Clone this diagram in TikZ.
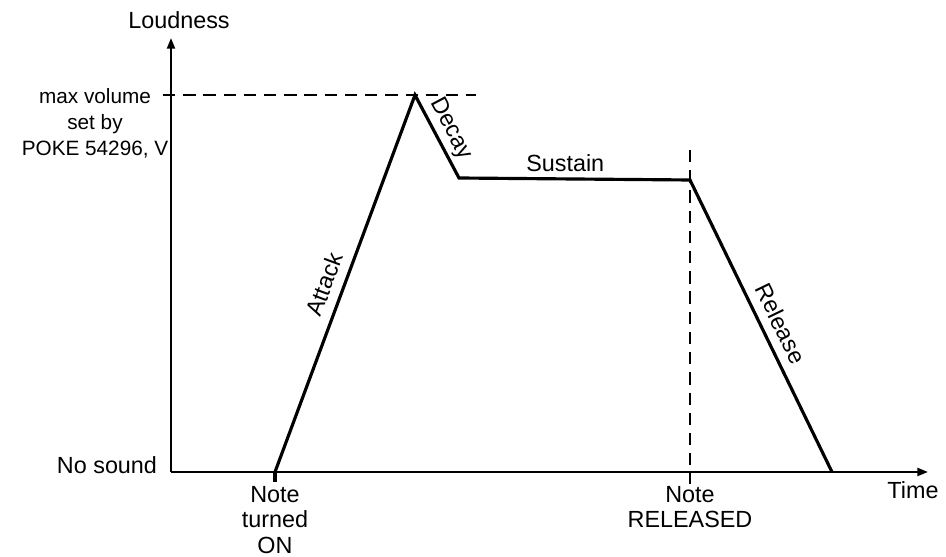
\documentclass[tikz,border=0pt]{standalone}
\usepackage{fontspec}
\setmainfont{Liberation Sans}
\usetikzlibrary{positioning, arrows.meta}

\begin{document}
\begin{tikzpicture}[
  x=0.2mm, y=-0.2mm,
  axis/.style={line width=1.2pt, -{Triangle[length=6pt, width=4.5pt]}},
  env/.style={line width=1.8pt, line join=miter},
  guide/.style={line width=1.3pt, dash pattern=on 7pt off 4.5pt},
  lbl/.style={font=\fontsize{13.3}{14.4}\selectfont, inner sep=2pt, align=center},
  small/.style={font=\fontsize{11.8}{14.7}\selectfont, inner sep=2pt, align=center},
]
\useasboundingbox (0,0) rectangle (946,557);

% === Points ===
\coordinate (orig) at (171,472);
\coordinate (ytip) at (171,38);
\coordinate (xtip) at (928,472);
\coordinate (on) at (275,472);
\coordinate (peak) at (415,95);
\coordinate (sus1) at (459,178);
\coordinate (sus2) at (690,180);
\coordinate (off) at (832,472);
\coordinate (maxL) at (163,95);
\coordinate (maxR) at (476,95);
\coordinate (relT) at (690,150);
\coordinate (relB) at (690,484);
\coordinate (relax) at (690,472);

% === Axes ===
\draw[axis] (orig) -- (ytip);
\draw[axis] (orig) -- (xtip);

% === Guides ===
\draw[guide] (maxL) -- (maxR);
\draw[guide] (relT) -- (relB);

% === Envelope ===
\draw[env] (on) -- ++(0,10);
\draw[env] (on)
  -- node[lbl, sloped, above=3pt, pos=0.48] {Attack} (peak)
  -- node[lbl, sloped, above=0pt, pos=0.5] {Decay} (sus1)
  -- node[lbl, above=1pt, pos=0.46] {Sustain} (sus2)
  -- node[lbl, sloped, above=3pt, pos=0.52] {Release} (off);

% === Labels ===
\node[lbl] (loud) at (179,20) {Loudness};
\node[small] (maxvol) at (95,123) {max volume\\set by\\POKE 54296, V};
\node[lbl] (nosound) at (107,465) {No sound};
\node[lbl, below=6pt of on] (noteon) {Note\\turned\\ON};
\node[lbl, below=6pt of relax] (noteoff) {Note\\RELEASED};
\node[lbl] (time) at (913,490) {Time};

\end{tikzpicture}
\end{document}
